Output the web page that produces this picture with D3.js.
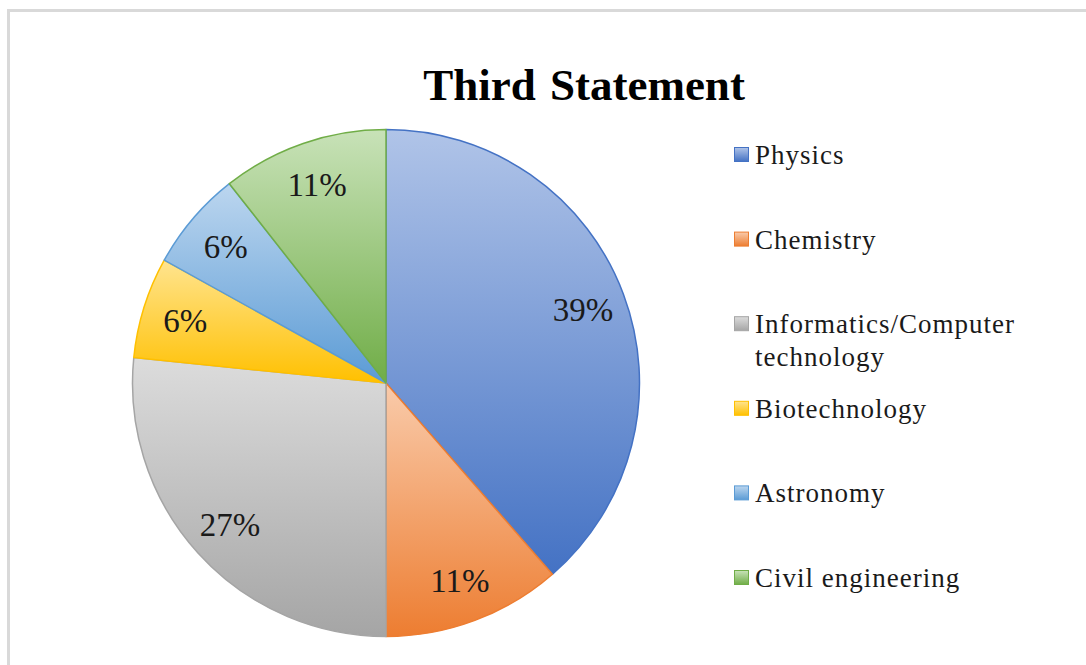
<!DOCTYPE html>
<html>
<head>
<meta charset="utf-8">
<script src="https://cdn.jsdelivr.net/npm/d3@7"></script>
<style>
  html, body { margin: 0; padding: 0; background: #fff; }
  svg { display: block; }
</style>
</head>
<body>
<svg id="chart" width="1086" height="665"></svg>
<script>
// ---- Data ----
const title = "Third Statement";
const categories = ["Physics", "Chemistry", "Informatics/Computer technology", "Biotechnology", "Astronomy", "Civil engineering"];
const legendLines = [["Physics"], ["Chemistry"], ["Informatics/Computer", "technology"], ["Biotechnology"], ["Astronomy"], ["Civil engineering"]];
const values = [38.6, 11.4, 26.6, 6.45, 6.35, 10.6];
const baseColors = ["#4472c4", "#ed7d31", "#a5a5a5", "#ffc000", "#5b9bd5", "#70ad47"];
const lightColors = ["#b0c4e8", "#f9cbab", "#dcdcdc", "#ffe48f", "#bcd6ef", "#c8e2b8"];

// ---- Layout ----
const svg = d3.select("#chart");
const cx = 386, cy = 383, R = 253.5;

// frame
svg.append("rect")
  .attr("x", 8.5).attr("y", 10.5)
  .attr("width", 1100).attr("height", 700)
  .attr("fill", "none").attr("stroke", "#d9d9d9").attr("stroke-width", 3);

// gradients
const defs = svg.append("defs");
baseColors.forEach((c, i) => {
  const g = defs.append("linearGradient")
    .attr("id", "grad" + i)
    .attr("x1", 0).attr("y1", 0).attr("x2", 0).attr("y2", 1);
  g.append("stop").attr("offset", "0%").attr("stop-color", lightColors[i]);
  g.append("stop").attr("offset", "100%").attr("stop-color", c);
});

// title
svg.append("text")
  .attr("x", 584).attr("y", 100)
  .attr("text-anchor", "middle")
  .attr("font-family", "'Liberation Serif', 'Times New Roman', serif")
  .attr("font-weight", "bold")
  .attr("font-size", 45)
  .attr("word-spacing", 3)
  .attr("fill", "#000")
  .text(title);

// pie
const pie = d3.pie().sort(null).value(d => d);
const arcs = pie(values);
const arc = d3.arc().innerRadius(0).outerRadius(R);
const labelArc = d3.arc().innerRadius(R * 0.83).outerRadius(R * 0.83);

const g = svg.append("g").attr("transform", `translate(${cx},${cy})`);
g.selectAll("path.slice")
  .data(arcs)
  .join("path")
  .attr("class", "slice")
  .attr("d", arc)
  .attr("fill", (d, i) => `url(#grad${i})`)
  .attr("stroke", (d, i) => baseColors[i])
  .attr("stroke-width", 1.5)
  .attr("stroke-linejoin", "round");

const fmt = v => Math.round(v) + "%";
const total = d3.sum(values);
g.selectAll("text.lbl")
  .data(arcs)
  .join("text")
  .attr("class", "lbl")
  .attr("transform", d => `translate(${labelArc.centroid(d)})`)
  .attr("text-anchor", "middle")
  .attr("dy", "0.35em")
  .attr("font-family", "'Liberation Serif', 'Times New Roman', serif")
  .attr("font-size", 33)
  .attr("fill", "#1a1a1a")
  .text(d => fmt(d.value / total * 100));

// legend
const legY = d3.scaleLinear().domain([0, categories.length - 1]).range([155, 578]);
const leg = svg.append("g");
categories.forEach((c, i) => {
  const y = legY(i);
  leg.append("rect")
    .attr("x", 734.5).attr("y", y - 7.5)
    .attr("width", 14).attr("height", 14)
    .attr("fill", `url(#grad${i})`)
    .attr("stroke", baseColors[i]).attr("stroke-width", 1);
  const t = leg.append("text")
    .attr("font-family", "'Liberation Serif', 'Times New Roman', serif")
    .attr("font-size", 27)
    .attr("letter-spacing", 1)
    .attr("fill", "#1a1a1a");
  legendLines[i].forEach((line, k) => {
    t.append("tspan")
      .attr("x", 755)
      .attr("y", y + 9 + k * 33)
      .text(line);
  });
});
</script>
</body>
</html>
